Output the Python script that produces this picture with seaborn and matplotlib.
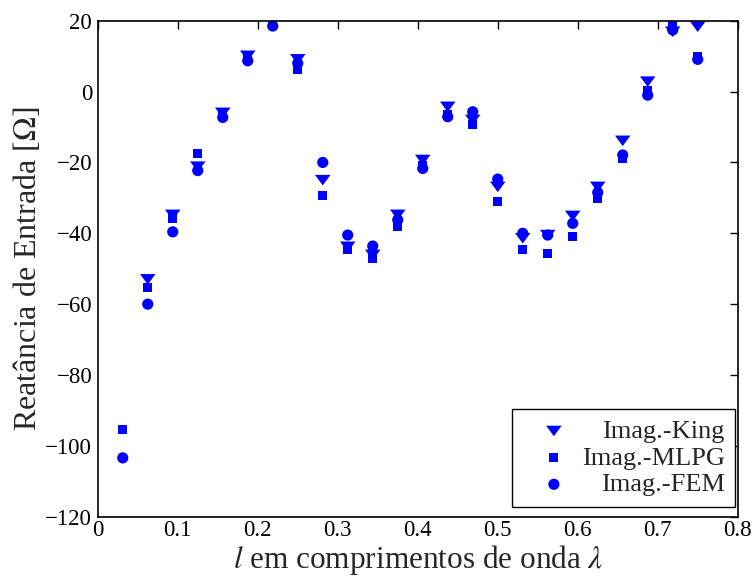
import numpy as np
import pandas as pd
import seaborn as sns
import matplotlib
matplotlib.use("Agg")
import matplotlib.pyplot as plt
from matplotlib.path import Path

x = [n / 32 for n in range(1, 25)]
king = [np.nan, -53.0, -34.8, -21.2, -6.0, 10.1, 20.0, 9.1, -25.0, -43.8, -46.1, -34.8,
        -19.3, -4.3, -8.0, -26.9, -41.4, -40.5, -35.1, -26.9, -13.9, 2.8, 16.9, 18.3]
mlpg = [-95.3, -55.4, -35.8, -17.4, -6.8, 9.5, 19.0, 6.1, -29.2, -44.7, -47.0, -38.1,
        -21.0, -6.5, -9.2, -31.1, -44.5, -45.6, -41.0, -30.1, -18.8, 0.4, 18.8, 10.0]
fem = [-103.4, -60.0, -39.6, -22.3, -7.3, 8.7, 18.5, 8.0, -20.0, -40.5, -43.6, -36.2,
       -21.7, -7.1, -5.7, -24.7, -40.0, -40.5, -37.2, -28.5, -17.9, -1.0, 17.4, 9.1]
labels = ["Imag.-King", "Imag.-MLPG", "Imag.-FEM"]

sns.set_style("white")
plt.rcParams['font.family'] = ['Liberation Serif', 'DejaVu Serif']
plt.rcParams['mathtext.fontset'] = 'stix'

tri_down = Path([(-1, 0.68), (1, 0.68), (0, -0.68), (-1, 0.68)],
                [Path.MOVETO, Path.LINETO, Path.LINETO, Path.CLOSEPOLY])

fig = plt.figure(figsize=(7.52, 5.76), dpi=100)
ax = fig.add_axes([0.130, 0.103, 0.851, 0.861])

for vals, lab, mk, s in zip([king, mlpg, fem], labels, [tri_down, 's', 'o'], [125, 42, 65]):
    df = pd.DataFrame({"x": x, "y": vals})
    sns.scatterplot(data=df, x="x", y="y", marker=mk, s=s, color="#0000ff",
                    edgecolor="none", linewidth=0, label=lab, ax=ax)

ax.set_xlim(0, 0.8)
ax.set_ylim(-120, 20)
ax.set_xticks(np.arange(0, 0.81, 0.1))
ax.set_xticklabels(["0", "0.1", "0.2", "0.3", "0.4", "0.5", "0.6", "0.7", "0.8"])
ax.set_yticks(np.arange(-120, 21, 20))
ax.tick_params(direction='in', length=6, width=1, top=True, right=True,
               labelsize=16.5, colors='black', pad=4)
ax.tick_params(axis='x', pad=2.5)
for sp in ax.spines.values():
    sp.set_visible(True)
    sp.set_color('black')
    sp.set_linewidth(1.2)

ax.set_xlabel(r"$l$ em comprimentos de onda $\lambda$", fontsize=22.5)
ax.xaxis.label.set_va('baseline')
ax.xaxis.set_label_coords(0.5, -0.104)
ax.set_ylabel(r"Reatância de Entrada [$\Omega$]", fontsize=23, labelpad=2)

leg = ax.legend(loc='lower right', bbox_to_anchor=(0.996, 0.02), fontsize=19,
                frameon=True, fancybox=False, edgecolor='black', framealpha=1,
                borderaxespad=0, handletextpad=-0.15, labelspacing=0.12,
                markerfirst=True, borderpad=0.4, handlelength=2.4)
leg.get_frame().set_linewidth(1.0)

# right-align legend labels
fig.canvas.draw()
renderer = fig.canvas.get_renderer()
texts = leg.get_texts()
widths = [t.get_window_extent(renderer).width for t in texts]
wmax = max(widths)
for t, w in zip(texts, widths):
    t.set_position((wmax - w, 0))

fig.savefig("out.png", dpi=100)
